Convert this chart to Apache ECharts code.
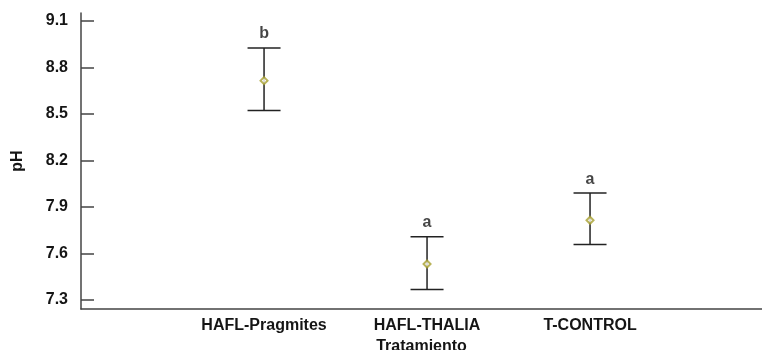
<!DOCTYPE html>
<html>
<head>
<meta charset="utf-8">
<script src="https://cdn.jsdelivr.net/npm/echarts@6/dist/echarts.min.js"></script>
<style>
    html, body { margin: 0; padding: 0; background: #fff; }
    #chart { width: 762px; height: 350px; }
</style>
</head>
<body>
<div id="chart"></div>
<script>
const categories = ["HAFL-Pragmites", "HAFL-THALIA", "T-CONTROL"]
const means = [8.714, 7.532, 7.814]
const upper = [8.924, 7.707, 7.989]
const lower = [8.521, 7.367, 7.657]
const letters = ["b", "a", "a"]
const yTicks = [7.3, 7.6, 7.9, 8.2, 8.5, 8.8, 9.1]

const textStyle = {
    fontFamily: "Liberation Sans, Arial, sans-serif",
    fontWeight: "bold",
    fontSize: 16,
    color: "#151515"
}
const xPos = categories.map((_, i) => i + 1)

const chart = echarts.init(document.getElementById("chart"))

chart.setOption({
    animation: false,
    grid: { left: 81, right: 0, top: 13, bottom: 41, outerBoundsMode: "none" },
    xAxis: {
        type: "value",
        min: -0.123,
        max: 4.055,
        name: "Tratamiento",
        nameLocation: "middle",
        nameGap: 25,
        nameTextStyle: textStyle,
        splitLine: { show: false },
        axisLine: { show: true, onZero: false, lineStyle: { color: "#444", width: 1.5 } },
        axisTick: { show: false },
        axisLabel: {
            customValues: xPos,
            margin: 9,
            formatter: v => categories[Math.round(v) - 1] || "",
            ...textStyle
        }
    },
    yAxis: {
        type: "value",
        min: 7.242,
        max: 9.15,
        name: "pH",
        nameLocation: "middle",
        nameGap: 55,
        nameRotate: 90,
        nameTextStyle: textStyle,
        splitLine: { show: false },
        axisLine: { show: true, onZero: false, lineStyle: { color: "#444", width: 1.5 } },
        axisTick: {
            show: true,
            inside: true,
            length: 13,
            customValues: yTicks,
            lineStyle: { color: "#444", width: 1.5 }
        },
        axisLabel: {
            customValues: yTicks,
            margin: 13,
            formatter: v => v.toFixed(1),
            ...textStyle
        }
    },
    series: [
        {
            type: "custom",
            data: xPos.map((x, i) => [x, lower[i], upper[i]]),
            renderItem(params, api) {
                const lo = api.coord([api.value(0), api.value(1)])
                const hi = api.coord([api.value(0), api.value(2)])
                const half = 16.5
                const style = { stroke: "#222", lineWidth: 1.5 }
                return {
                    type: "group",
                    children: [
                        { type: "line", shape: { x1: hi[0], y1: hi[1], x2: lo[0], y2: lo[1] }, style },
                        { type: "line", shape: { x1: hi[0] - half, y1: hi[1], x2: hi[0] + half, y2: hi[1] }, style },
                        { type: "line", shape: { x1: lo[0] - half, y1: lo[1], x2: lo[0] + half, y2: lo[1] }, style }
                    ]
                }
            },
            z: 2
        },
        {
            type: "scatter",
            data: xPos.map((x, i) => [x, means[i]]),
            symbol: "emptyDiamond",
            symbolSize: 7,
            itemStyle: { color: "#a8a030", borderWidth: 1.2 },
            z: 3
        },
        {
            type: "scatter",
            data: xPos.map((x, i) => ({ value: [x, upper[i]], letter: letters[i] })),
            symbolSize: 0,
            label: {
                show: true,
                position: "top",
                distance: 6,
                formatter: p => p.data.letter,
                ...textStyle
            },
            z: 3
        }
    ]
})
</script>
</body>
</html>
